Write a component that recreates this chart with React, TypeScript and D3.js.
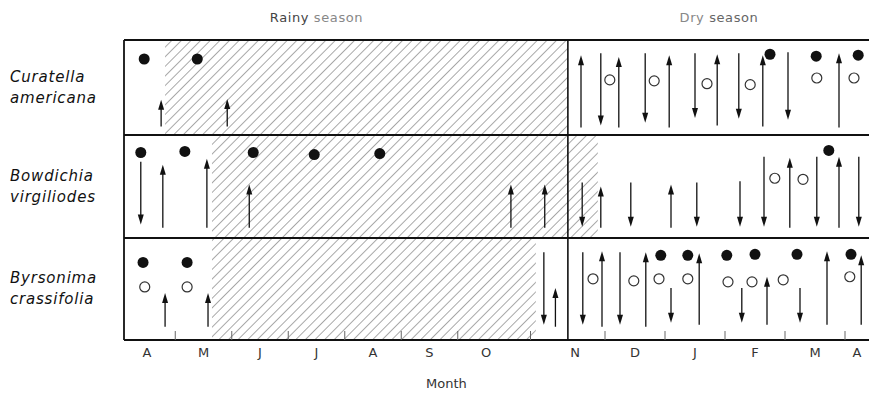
import * as d3 from "d3";

// month labels, April to April
const months = ["A", "M", "J", "J", "A", "S", "O", "N", "D", "J", "F", "M", "A"];

const species = [
  ["Curatella", "americana"],
  ["Bowdichia", "virgiliodes"],
  ["Byrsonima", "crassifolia"],
];

// positions in months from 1 April; y in % of the row height (0 = top)
// arrows: [month, tail, head]
const curatellaArrows = [
  [0.75, 91, 63], [1.92, 91, 62], [7.6, 92, 16], [8.23, 92, 18], [9.07, 92, 16],
  [9.87, 90, 15], [10.63, 91, 16], [11.9, 92, 14],
  [7.93, 14, 90], [8.67, 14, 87], [9.5, 14, 82], [10.23, 14, 83], [11.05, 13, 84],
];
const curatellaDots = [[0.45, 20], [1.39, 20], [10.75, 15], [11.52, 17], [12.22, 16]];
const curatellaOpen = [[8.08, 42], [8.82, 43], [9.7, 46], [10.42, 47], [11.53, 40], [12.15, 40]];

const bowdichiaArrows = [
  [0.78, 90, 29], [1.56, 90, 23], [2.31, 90, 48], [6.78, 90, 48], [7.16, 90, 48],
  [7.93, 90, 50], [9.1, 90, 48], [11.08, 90, 22], [11.9, 90, 21],
  [0.39, 26, 87], [7.62, 46, 89], [8.43, 46, 89], [9.53, 46, 89], [10.25, 45, 89],
  [10.65, 21, 89], [11.53, 21, 89], [12.23, 21, 89],
];
const bowdichiaDots = [[0.39, 17], [1.17, 16], [2.38, 17], [3.46, 19], [4.62, 18], [11.73, 15]];
const bowdichiaOpen = [[10.83, 42], [11.3, 43]];

const byrsonimaArrows = [
  [0.82, 87, 54], [1.58, 87, 54], [7.28, 87, 49], [7.95, 87, 13], [8.68, 87, 14],
  [9.57, 85, 15], [10.7, 85, 38], [11.7, 85, 13], [12.27, 85, 17],
  [7.15, 14, 85], [7.63, 14, 85], [8.25, 14, 85], [9.1, 49, 83], [10.28, 49, 83], [11.25, 49, 83],
];
const byrsonimaDots = [[0.43, 24], [1.21, 24], [8.93, 17], [9.38, 17], [10.03, 17], [10.5, 16], [11.2, 16], [12.1, 16]];
const byrsonimaOpen = [
  [0.46, 48], [1.21, 48], [7.8, 40], [8.48, 42], [8.9, 40], [9.38, 40],
  [10.05, 43], [10.45, 43], [10.97, 41], [12.08, 38],
];

// hatched (rainy) spans per row: [start, end] in months
const hatchSpans = [[0.82, 7.42], [1.65, 7.88], [1.65, 7.06]];
const seasonBreak = 7.42;

const arrows = [curatellaArrows, bowdichiaArrows, byrsonimaArrows];
const dots = [curatellaDots, bowdichiaDots, byrsonimaDots];
const opens = [curatellaOpen, bowdichiaOpen, byrsonimaOpen];

const W = 869;
const H = 395;
const left = 124;
const right = 869;
const rowEdges = [40, 135, 238, 340];

export default function App() {
  // rainy months drawn a bit narrower than dry ones in the original
  const x = d3.scaleLinear().domain([0, 6.5, 7.5, 13]).range([118.75, 486, 575, 905]);
  const rowY = rowEdges.slice(0, 3).map((t, i) =>
    d3.scaleLinear().domain([0, 100]).range([t, rowEdges[i + 1]])
  );
  const bottom = rowEdges[3];
  const font = "DejaVu Sans, sans-serif";

  const arrow = (d, i, k) => {
    const px = x(d[0]);
    const y1 = rowY[i](d[1]);
    const y2 = rowY[i](d[2]);
    const dir = Math.sign(y2 - y1);
    const hl = 10;
    const hw = 3;
    return (
      <g key={`a${i}-${k}`}>
        <line x1={px} x2={px} y1={y1} y2={y2 - dir * 6} stroke="#111" strokeWidth={1.3} />
        <path
          d={`M${px},${y2}L${px - hw},${y2 - dir * hl}L${px + hw},${y2 - dir * hl}Z`}
          fill="#111"
        />
      </g>
    );
  };

  return (
    <svg
      width={W}
      height={H}
      style={{ position: "absolute", left: 0, top: 0, background: "#fff" }}
    >
      <defs>
        <pattern
          id="hatch"
          width={6.8}
          height={6.8}
          patternUnits="userSpaceOnUse"
          patternTransform="rotate(45)"
        >
          <line x1={0} y1={0} x2={0} y2={6.8} stroke="#707070" strokeWidth={1.2} />
        </pattern>
      </defs>

      {/* hatched rainy period */}
      {hatchSpans.map((s, i) => (
        <rect
          key={`h${i}`}
          x={x(s[0])}
          y={rowEdges[i]}
          width={x(s[1]) - x(s[0])}
          height={rowEdges[i + 1] - rowEdges[i]}
          fill="url(#hatch)"
        />
      ))}

      {/* frame */}
      {rowEdges.map((y, i) => (
        <line key={`r${i}`} x1={left} x2={right} y1={y} y2={y} stroke="#111" strokeWidth={1.8} />
      ))}
      <line x1={left} x2={left} y1={rowEdges[0]} y2={bottom} stroke="#111" strokeWidth={1.8} />
      <line
        x1={x(seasonBreak)}
        x2={x(seasonBreak)}
        y1={rowEdges[0]}
        y2={bottom}
        stroke="#111"
        strokeWidth={1.6}
      />

      {/* axis ticks at month boundaries */}
      {d3.range(1, 13).map((m) => (
        <line key={`t${m}`} x1={x(m)} x2={x(m)} y1={bottom} y2={bottom - 9} stroke="#666" strokeWidth={1} />
      ))}

      {/* marks */}
      {arrows.map((rows, i) => rows.map((d, k) => arrow(d, i, k)))}
      {dots.map((rows, i) =>
        rows.map((d, k) => (
          <circle key={`d${i}-${k}`} cx={x(d[0])} cy={rowY[i](d[1])} r={5.5} fill="#111" />
        ))
      )}
      {opens.map((rows, i) =>
        rows.map((d, k) => (
          <circle
            key={`o${i}-${k}`}
            cx={x(d[0])}
            cy={rowY[i](d[1])}
            r={5}
            fill="#fff"
            stroke="#333"
            strokeWidth={1.2}
          />
        ))
      )}

      {/* species labels */}
      {species.map((names, i) => {
        const cy = (rowEdges[i] + rowEdges[i + 1]) / 2;
        return (
          <text
            key={`s${i}`}
            fontFamily={font}
            fontStyle="italic"
            fontSize={15}
            letterSpacing={0.8}
            fill="#111"
          >
            <tspan x={10} y={cy - 6}>{names[0]}</tspan>
            <tspan x={10} y={cy + 15}>{names[1]}</tspan>
          </text>
        );
      })}

      {/* season titles */}
      <text x={x(3.5)} y={22} textAnchor="middle" fontFamily={font} fontSize={13} letterSpacing={0.6}>
        <tspan fill="#444">Rainy </tspan>
        <tspan fill="#888">season</tspan>
      </text>
      <text x={x(9.9)} y={22} textAnchor="middle" fontFamily={font} fontSize={13} letterSpacing={0.6}>
        <tspan fill="#888">Dry </tspan>
        <tspan fill="#666">season</tspan>
      </text>

      {/* month labels */}
      {months.map((m, i) => (
        <text
          key={`m${i}`}
          x={Math.min(x(i + 0.5), right - 12)}
          y={357}
          textAnchor="middle"
          fontFamily={font}
          fontSize={13}
          fill="#333"
        >
          {m}
        </text>
      ))}
      <text x={x(5.8)} y={388} textAnchor="middle" fontFamily={font} fontSize={13} fill="#333">
        Month
      </text>
    </svg>
  );
}
